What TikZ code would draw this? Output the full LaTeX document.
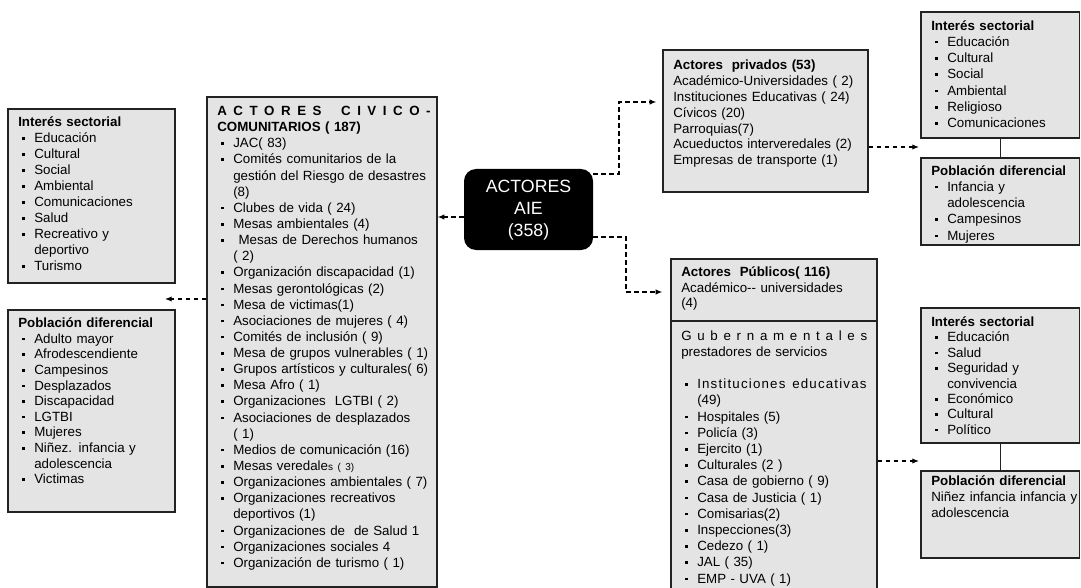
\documentclass[tikz,border=0pt]{standalone}
\usepackage{fontspec}
\setmainfont{Liberation Sans}
\usetikzlibrary{arrows.meta,fit,calc}
\definecolor{boxfill}{HTML}{E4E4E4}
\definecolor{boxline}{HTML}{222222}
\newcommand\itm{\strut\makebox[12pt][l]{\hspace{3pt}\rule[2.2pt]{1.9pt}{1.9pt}}}
\newcommand\cont{\strut\hspace{12pt}}
\begin{document}
\begin{tikzpicture}[x=0.75pt,y=-0.75pt,
  box/.style={draw=boxline,fill=boxfill,line width=1pt,inner sep=0pt},
  txt/.style={anchor=north west,inner sep=0pt,align=left,font=\fontsize{10pt}{12pt}\selectfont},
  conn/.style={line width=0.9pt,dash pattern=on 3.5pt off 2.5pt,-{Latex[length=5pt,width=4pt]}},
  link/.style={line width=1pt,draw=boxline}]
\useasboundingbox (0,0) rectangle (1081,588);
\clip (0,0) rectangle (1081,588);
\fill[white] (0,0) rectangle (1081,588);

% boxes
\node[box,fit={(8,109) (175,283)}] (liI) {};
\node[box,fit={(8,310) (175,512)}] (liP) {};
\node[box,fit={(207,97) (437,587)}] (mid) {};
\node[fit={(464,169) (593,250)},inner sep=0pt,fill=black,rounded corners=9pt] (ctr) {};
\node[inner sep=0pt,text=white,align=center,font=\fontsize{13.3pt}{16.5pt}\selectfont] (ctrt) at ([yshift=-0.5pt]ctr.center) {ACTORES\\AIE\\(358)};
\node[box,fit={(663,50) (868,192)}] (prv) {};
\node[box,fit={(921,12) (1079.5,138)}] (rtI) {};
\node[box,fit={(921,158) (1079.5,245)}] (rtP) {};
\node[box,fit={(671,259) (877,321)}] (pubA) {};
\node[box,fit={(671,321) (877,600)}] (pubB) {};
\node[box,fit={(921,308) (1079.5,443)}] (rbI) {};
\node[box,fit={(921,471) (1079.5,558)}] (rbP) {};

% texts
\node[txt,text width=115pt] (liIt) at (18,115.5) {\strut\textbf{Interés sectorial}\\
\itm Educación\\ \itm Cultural\\ \itm Social\\ \itm Ambiental\\ \itm Comunicaciones\\
\itm Salud\\ \itm Recreativo y\\ \cont deportivo\\ \itm Turismo};

\node[txt,text width=115pt,font=\fontsize{10pt}{11.7pt}\selectfont] (liPt) at (18,316.5) {\strut\textbf{Población diferencial}\\
\itm Adulto mayor\\ \itm Afrodescendiente\\ \itm Campesinos\\ \itm Desplazados\\ \itm Discapacidad\\
\itm LGTBI\\ \itm Mujeres\\ \itm Niñez. infancia y\\ \cont adolescencia\\ \itm Victimas};

\node[txt,text width=162pt,font=\fontsize{10pt}{12.1pt}\selectfont] (midt) at (217,104) {%
\strut\makebox[160pt][l]{\bfseries A\hfill C\hfill T\hfill O\hfill R\hfill E\hfill S\hfill\hfill\hfill C\hfill I\hfill V\hfill I\hfill C\hfill O\hfill -}\\
\strut\textbf{COMUNITARIOS ( 187)}\\
\itm JAC( 83)\\
\itm Comités comunitarios de la\\
\cont gestión del Riesgo de desastres\\
\cont (8)\\
\itm Clubes de vida ( 24)\\
\itm Mesas ambientales (4)\\
\itm\hspace{4pt}Mesas de Derechos humanos\\
\cont ( 2)\\
\itm Organización discapacidad (1)\\
\itm Mesas gerontológicas (2)\\
\itm Mesa de victimas(1)\\
\itm Asociaciones de mujeres ( 4)\\
\itm Comités de inclusión ( 9)\\
\itm Mesa de grupos vulnerables ( 1)\\
\itm Grupos artísticos y culturales( 6)\\
\itm Mesa Afro ( 1)\\
\itm Organizaciones~ LGTBI ( 2)\\
\itm Asociaciones de desplazados\\
\cont ( 1)\\
\itm Medios de comunicación (16)\\
\itm Mesas veredale{\fontsize{7.5pt}{9pt}\selectfont s ( 3)}\\
\itm Organizaciones ambientales ( 7)\\
\itm Organizaciones recreativos\\
\cont deportivos (1)\\
\itm Organizaciones de~ de Salud 1\\
\itm Organizaciones sociales 4\\
\itm Organización de turismo ( 1)};

\node[txt,text width=145pt,font=\fontsize{10pt}{11.85pt}\selectfont] (prvt) at (673,58.5) {\strut\textbf{Actores~ privados (53)}\\
\strut Académico-Universidades ( 2)\\
\strut Instituciones Educativas ( 24)\\
\strut Cívicos (20)\\
\strut Parroquias(7)\\
\strut Acueductos interveredales (2)\\
\strut Empresas de transporte (1)};

\node[txt,text width=110pt,font=\fontsize{10pt}{12.2pt}\selectfont] (rtIt) at (931,18.5) {\strut\textbf{Interés sectorial}\\
\itm Educación\\ \itm Cultural\\ \itm Social\\ \itm Ambiental\\ \itm Religioso\\ \itm Comunicaciones};

\node[txt,text width=110pt,font=\fontsize{10pt}{12.2pt}\selectfont] (rtPt) at (931,163.5) {\strut\textbf{Población diferencial}\\
\itm Infancia y\\ \cont adolescencia\\ \itm Campesinos\\ \itm Mujeres};

\node[txt,text width=145pt,font=\fontsize{10pt}{11.6pt}\selectfont] (pubAt) at (681,265.5) {\strut\textbf{Actores~ Públicos( 116)}\\
\strut Académico-{}- universidades\\
\strut (4)};

\node[txt,text width=145pt,font=\fontsize{10pt}{12.15pt}\selectfont] (pubBt) at (681,328.5) {%
\strut\makebox[139.5pt][l]{G\hfill u\hfill b\hfill e\hfill r\hfill n\hfill a\hfill m\hfill e\hfill n\hfill t\hfill a\hfill l\hfill e\hfill s}\\
\strut prestadores de servicios\\
\strut\\
\itm\makebox[127pt][l]{I\hfill n\hfill s\hfill t\hfill i\hfill t\hfill u\hfill c\hfill i\hfill o\hfill n\hfill e\hfill s\hfill~\hfill e\hfill d\hfill u\hfill c\hfill a\hfill t\hfill i\hfill v\hfill a\hfill s}\\
\cont (49)\\
\itm Hospitales (5)\\
\itm Policía (3)\\
\itm Ejercito (1)\\
\itm Culturales (2 )\\
\itm Casa de gobierno ( 9)\\
\itm Casa de Justicia ( 1)\\
\itm Comisarias(2)\\
\itm Inspecciones(3)\\
\itm Cedezo ( 1)\\
\itm JAL ( 35)\\
\itm EMP - UVA ( 1)};

\node[txt,text width=110pt,font=\fontsize{10pt}{11.55pt}\selectfont] (rbIt) at (931,315.5) {\strut\textbf{Interés sectorial}\\
\itm Educación\\ \itm Salud\\ \itm Seguridad y\\ \cont convivencia\\ \itm Económico\\ \itm Cultural\\ \itm Político};

\node[txt,text width=115pt] (rbPt) at (931,474.5) {\strut\textbf{Población diferencial}\\
\strut Niñez infancia infancia y\\
\strut adolescencia};

% connectors
\coordinate (lt) at (165,299);
\coordinate (b1) at (619,102);
\coordinate (b2) at (626,292);
\coordinate (r1) at (919,147);
\coordinate (r2) at (919,461);
\draw[conn] (ctr.west |- 0,217) -- (mid.east |- 0,217);
\draw[conn] (mid.west |- lt) -- (lt);
\draw[conn,shorten >=4.5pt] (ctr.east |- 0,174) -| (b1) -- (prv.west |- b1);
\draw[conn,shorten >=6pt] (ctr.east |- 0,237) -| (b2) -- (pubA.west |- b2);
\draw[conn] (prv.east |- r1) -- (r1);
\draw[conn] (pubB.east |- r2) -- (r2);
\draw[link] (rtI.south) -- (rtP.north);
\draw[link] (rbI.south) -- (rbP.north);
\end{tikzpicture}
\end{document}
